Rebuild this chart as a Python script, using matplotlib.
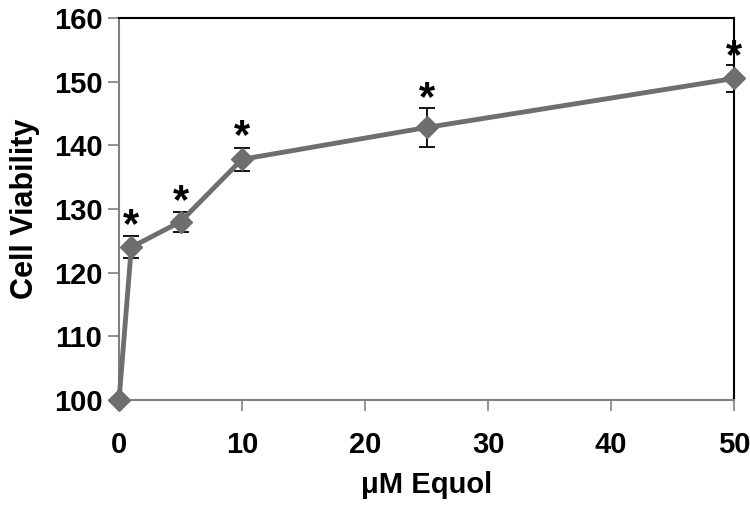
import matplotlib
matplotlib.use("Agg")
import matplotlib.pyplot as plt

# data
dose = [0, 1, 5, 10, 25, 50]
viability = [100, 124, 128, 137.8, 142.8, 150.5]
err = [0, 1.7, 1.6, 1.8, 3.0, 2.1]
star_y = [None, 127.3, 131.1, 141.3, 147.3, 153.9]

plt.rcParams["font.family"] = ["Liberation Sans", "DejaVu Sans"]
plt.rcParams["font.weight"] = "bold"

fig = plt.figure(figsize=(7.5, 5.08), dpi=100)
ax = fig.add_axes([0.1587, 0.2126, 0.82, 0.752])

ax.errorbar(dose, viability, yerr=err, fmt="none", ecolor="black",
            elinewidth=1.3, capsize=6, capthick=1.3, zorder=2)
ax.plot(dose, viability, color="#6e6e6e", lw=3.5, marker="D", ms=11,
        mfc="#6e6e6e", mec="#6e6e6e", zorder=3, clip_on=False)

for x, y in zip(dose, star_y):
    if y is not None:
        ax.text(x, y, "*", ha="center", va="center", fontsize=30,
                fontweight="bold", color="black")

ax.set_xlim(0, 50)
ax.set_ylim(100, 160)
ax.set_xticks(range(0, 51, 10))
ax.set_yticks(range(100, 161, 10))

for side in ("left", "bottom"):
    ax.spines[side].set_color("#808080")
    ax.spines[side].set_linewidth(1.5)
for side in ("top", "right"):
    ax.spines[side].set_color("black")
    ax.spines[side].set_linewidth(1.5)

ax.tick_params(axis="both", direction="out", length=8, width=1.2,
               color="#808080", labelsize=21)
ax.tick_params(axis="y", pad=4)
ax.tick_params(axis="x", pad=14)
for lbl in ax.get_xticklabels() + ax.get_yticklabels():
    lbl.set_fontweight("bold")

ax.set_xlabel("μM Equol", fontsize=21, fontweight="bold", labelpad=9)
ax.set_ylabel("Cell Viability", fontsize=22, fontweight="bold", labelpad=10)

fig.savefig("out.png", dpi=100)
